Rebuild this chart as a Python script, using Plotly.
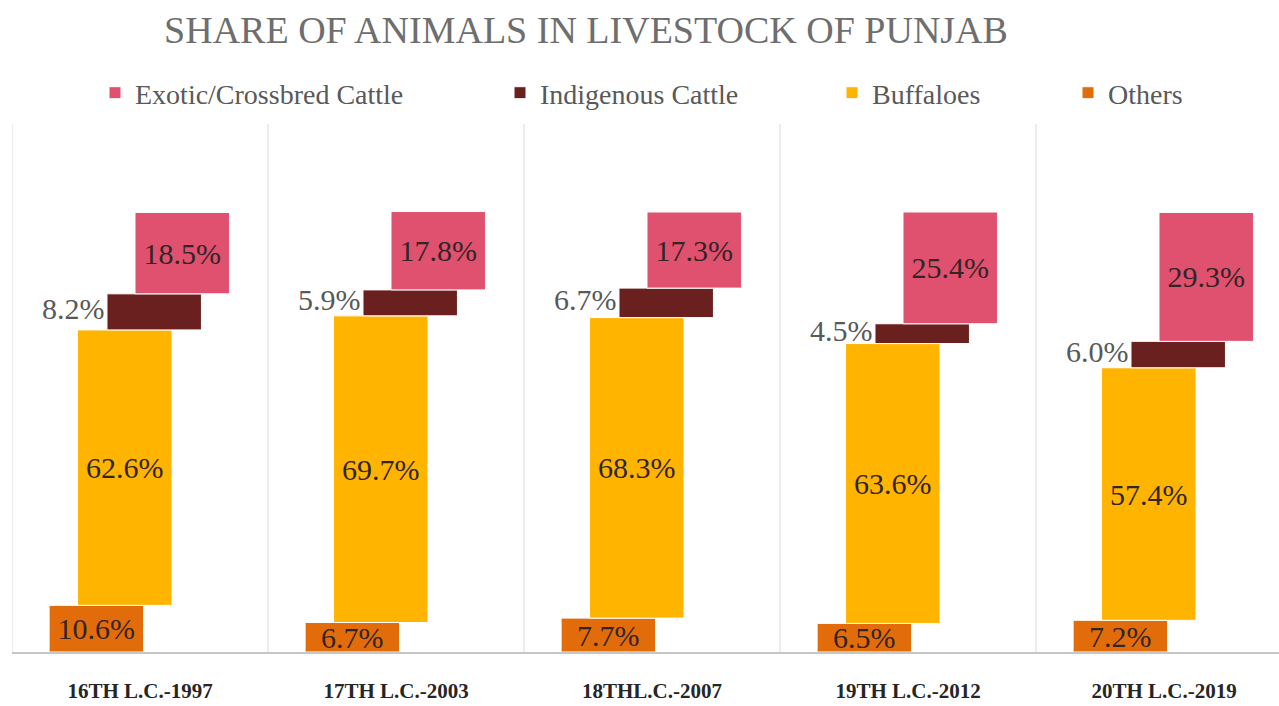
import plotly.graph_objects as go

# Livestock census rounds and each group's share of the total (%)
census = ["16TH L.C.-1997", "17TH L.C.-2003", "18THL.C.-2007", "19TH L.C.-2012", "20TH L.C.-2019"]
others = [10.6, 6.7, 7.7, 6.5, 7.2]
buffaloes = [62.6, 69.7, 68.3, 63.6, 57.4]
indigenous = [8.2, 5.9, 6.7, 4.5, 6.0]
exotic = [18.5, 17.8, 17.3, 25.4, 29.3]

W, H = 1279, 706
ML, MR, MT, MB = 12, 0, 124, 54
CAT_PX = 256  # pixel width of one census group

pos = list(range(len(census)))
bar_w = 0.369

# stacking bases: each segment sits on top of the previous ones
base_others = [0.0] * len(census)
base_buff = [a for a in others]
base_ind = [a + b for a, b in zip(others, buffaloes)]
base_exo = [a + b + c for a, b, c in zip(others, buffaloes, indigenous)]

series = [
    # name, values, base, colour, left offset in category units, legend id
    ("Others", others, base_others, "#E36C0A", -0.355, "legend4"),
    ("Buffaloes", buffaloes, base_buff, "#FFB400", -0.244, "legend3"),
    ("Indigenous Cattle", indigenous, base_ind, "#6B2020", -0.129, "legend2"),
    ("Exotic/Crossbred Cattle", exotic, base_exo, "#E0506F", -0.0195, "legend"),
]

label_font = dict(family="Liberation Serif", size=30, color="#332525")

fig = go.Figure()
for name, vals, base, color, off, leg in series:
    inside = name != "Indigenous Cattle"
    fig.add_trace(go.Bar(
        name=name,
        x=pos,
        y=vals,
        base=base,
        width=bar_w,
        offset=off,
        marker=dict(color=color, line=dict(color="white", width=1)),
        text=[f"{v:.1f}%" for v in vals] if inside else None,
        textposition="inside" if inside else "none",
        insidetextanchor="middle",
        constraintext="none",
        textangle=0,
        textfont=label_font,
        legend=leg,
        hoverinfo="skip",
    ))
    if not inside:
        # indigenous shares are labelled just left of their segment
        fig.add_trace(go.Scatter(
            x=[p + off - 0.01 for p in pos],
            y=[b + v / 2 for b, v in zip(base, vals)],
            mode="text",
            text=[f"{v:.1f}%" for v in vals],
            textposition="middle left",
            textfont=dict(family="Liberation Serif", size=30, color="#595959"),
            showlegend=False,
            hoverinfo="skip",
        ))

# light vertical dividers between census groups
for xv in [-0.5, 0.5, 1.5, 2.5, 3.5]:
    fig.add_shape(type="line", xref="x", yref="paper", x0=xv, x1=xv, y0=0, y1=1,
                  line=dict(color="#d9d9d9", width=1), layer="below")

legend_common = dict(
    orientation="h", xref="container", yref="container",
    xanchor="left", yanchor="middle", y=1 - 93 / H,
    font=dict(family="Liberation Serif", size=28, color="#595959"),
    bgcolor="rgba(0,0,0,0)", borderwidth=0,
)
legend_left_px = {"legend": 95, "legend2": 500, "legend3": 832, "legend4": 1068}

fig.update_layout(
    width=W, height=H,
    margin=dict(l=ML, r=MR, t=MT, b=MB),
    paper_bgcolor="white", plot_bgcolor="white",
    barmode="overlay",
    title=dict(
        text="SHARE OF ANIMALS IN LIVESTOCK OF PUNJAB",
        x=586 / W, xanchor="center", xref="container",
        y=1 - 30 / H, yanchor="middle", yref="container",
        font=dict(family="Liberation Serif", size=38, color="#6e6e6e"),
    ),
    xaxis=dict(
        range=[-0.5, -0.5 + (W - ML - MR) / CAT_PX],
        tickmode="array", tickvals=pos, ticktext=census,
        tickfont=dict(family="Liberation Serif", size=21, color="#262626", weight="bold"),
        ticks="", showgrid=False, zeroline=False,
        showline=True, linecolor="#c6c6c6", linewidth=2,
        ticklabelstandoff=19, automargin=False, fixedrange=True,
    ),
    yaxis=dict(range=[0, 120], visible=False, showgrid=False, fixedrange=True),
    showlegend=True,
    legend=dict(x=legend_left_px["legend"] / W, **legend_common),
    legend2=dict(x=legend_left_px["legend2"] / W, **legend_common),
    legend3=dict(x=legend_left_px["legend3"] / W, **legend_common),
    legend4=dict(x=legend_left_px["legend4"] / W, **legend_common),
)

fig.write_html("out.html")
